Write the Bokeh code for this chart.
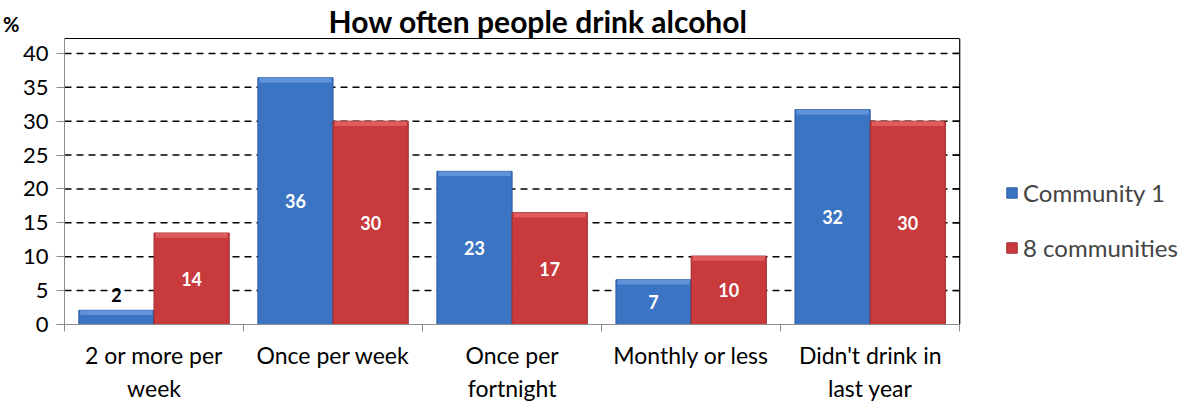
import math
from bokeh.plotting import figure
from bokeh.models import (ColumnDataSource, FixedTicker, LinearAxis, Legend, LegendItem,
                          Range1d)
from bokeh.core.properties import value
from bokeh.embed import file_html
from bokeh.resources import INLINE

categories = ["2 or more per\nweek", "Once per week", "Once per\nfortnight",
              "Monthly or less", "Didn't drink in\nlast year"]
community1 = [2.1, 36.4, 22.6, 6.6, 31.7]
communities8 = [13.5, 30.0, 16.5, 10.1, 30.0]
labels1 = ["2", "36", "23", "7", "32"]
labels8 = ["14", "30", "17", "10", "30"]
series_names = ["Community 1", "8 communities"]
y_ticks = [0, 5, 10, 15, 20, 25, 30, 35, 40]
y_max = 42.2

FONT = "Lato"
BLUE = "#3C74C4"
BLUE_HI = "#6A9BE0"
BLUE_DK = "#2B5A9E"
RED = "#C83A3B"
RED_HI = "#E66466"
RED_DK = "#9C2B2C"
AXIS_GRAY = "#8C8C8C"

W, H = 1194, 405
LEFT, RIGHT_EDGE = 63, 959          # plot-area edges in pixels
n = len(categories)
x_end = n * (W - LEFT) / (RIGHT_EDGE - LEFT)   # frame also hosts the legend area
centers = [i + 0.5 for i in range(n)]
off = 0.21
w = 0.42

p = figure(width=W, height=H, output_backend="svg", toolbar_location=None,
           x_range=Range1d(0, x_end), y_range=Range1d(0, y_max),
           min_border_left=LEFT, min_border_right=0, min_border_top=37, min_border_bottom=81)
p.outline_line_color = None
p.background_fill_color = "white"
p.border_fill_color = "white"
p.xgrid.grid_line_color = None
p.ygrid.grid_line_color = None

# dashed gridlines limited to the plot area
grid_y = y_ticks[1:]
p.segment(x0=[0] * len(grid_y), x1=[n] * len(grid_y), y0=grid_y, y1=grid_y,
          line_color="black", line_dash="7 5", line_width=1.5)

# right border with inward ticks
p.segment(x0=[n], x1=[n], y0=[0], y1=[y_max], line_color="black", line_width=1.2)
p.ray(x=[n] * len(y_ticks), y=y_ticks, length=7, length_units="screen", angle=math.pi,
      line_color="black", line_width=1.2)


def make_src(vals, labs, xs):
    return ColumnDataSource(dict(
        x=xs, top=vals,
        hi=[max(v - 0.7, 0) for v in vals],
        ly=[v / 2 if v > 5 else v + 2.3 for v in vals],
        lab=labs,
        lc=["white" if v > 5 else "black" for v in vals]))


src1 = make_src(community1, labels1, [c - off for c in centers])
src8 = make_src(communities8, labels8, [c + off for c in centers])

r1 = p.vbar(x="x", top="top", bottom=0, width=w, source=src1, fill_color=BLUE,
            line_color=BLUE_DK, line_width=1)
p.vbar(x="x", top="top", bottom="hi", width=w * 0.96, source=src1, fill_color=BLUE_HI,
       line_color=None, fill_alpha=0.8)
r8 = p.vbar(x="x", top="top", bottom=0, width=w, source=src8, fill_color=RED,
            line_color=RED_DK, line_width=1)
p.vbar(x="x", top="top", bottom="hi", width=w * 0.96, source=src8, fill_color=RED_HI,
       line_color=None, fill_alpha=0.8)

for s in (src1, src8):
    p.text(x="x", y="ly", text="lab", source=s, text_color="lc", text_font=value(FONT),
           text_font_size="18px", text_font_style="bold", text_align="center",
           text_baseline="middle")

# left axis
ya = p.yaxis[0]
ya.ticker = FixedTicker(ticks=y_ticks)
ya.axis_line_color = AXIS_GRAY
ya.major_tick_line_color = AXIS_GRAY
ya.major_tick_out = 8
ya.major_tick_in = 0
ya.minor_tick_line_color = None
ya.major_label_text_font = FONT
ya.major_label_text_font_size = "22px"
ya.major_label_text_color = "black"
ya.major_label_standoff = 8

# "%" unit label as a second, bare left axis
pa = LinearAxis(ticker=FixedTicker(ticks=[y_max]), major_label_overrides={y_max: "%\n "},
                axis_line_color=None, major_tick_line_color=None, minor_tick_line_color=None,
                major_tick_in=0, major_tick_out=0, major_label_standoff=0,
                major_label_text_font=FONT, major_label_text_font_size="20px",
                major_label_text_font_style="bold", major_label_text_color="black")
p.add_layout(pa, "left")

# bottom axis
xa = p.xaxis[0]
xa.bounds = (0, n)
xa.ticker = FixedTicker(ticks=centers, minor_ticks=list(range(n + 1)))
xa.major_label_overrides = {c: lab for c, lab in zip(centers, categories)}
xa.axis_line_color = AXIS_GRAY
xa.major_tick_line_color = None
xa.major_tick_out = 0
xa.major_tick_in = 0
xa.minor_tick_line_color = AXIS_GRAY
xa.minor_tick_out = 7
xa.minor_tick_in = 0
xa.major_label_text_font = FONT
xa.major_label_text_font_size = "23px"
xa.major_label_text_color = "black"
xa.major_label_standoff = 9

# top border
ta = LinearAxis(ticker=FixedTicker(ticks=[]), major_label_text_font_size="0px",
                axis_line_color="black", axis_line_width=1.2, major_tick_line_color=None,
                minor_tick_line_color=None, major_label_standoff=0, bounds=(0, n))
p.add_layout(ta, "above")

# title
p.title.text = "How often people drink alcohol"
p.title.text_font = FONT
p.title.text_font_size = "30px"
p.title.text_font_style = "bold"
p.title.text_color = "black"
p.title.align = "left"
p.title.offset = 264
p.title.standoff = 0

legend = Legend(items=[LegendItem(label=series_names[0], renderers=[r1]),
                       LegendItem(label=series_names[1], renderers=[r8])],
                location=(941, 62), orientation="vertical")
legend.label_text_font = FONT
legend.label_text_font_size = "24px"
legend.glyph_width = 13
legend.glyph_height = 13
legend.spacing = 26
legend.padding = 0
legend.margin = 0
legend.border_line_color = None
legend.background_fill_alpha = 0
legend.label_standoff = 5
p.add_layout(legend, "center")

open("out.html", "w").write(file_html(p, INLINE))
